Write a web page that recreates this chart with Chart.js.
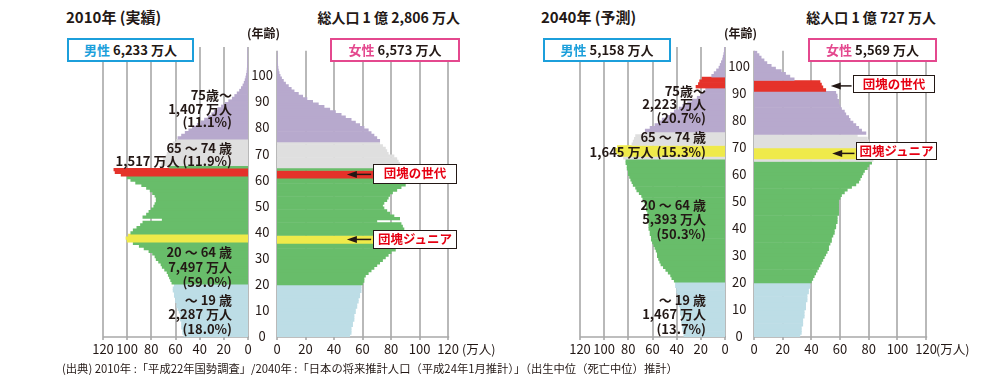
<!DOCTYPE html>
<html>
<head>
<meta charset="utf-8">
<script src="https://cdn.jsdelivr.net/npm/chart.js@4.4.1/dist/chart.umd.min.js"></script>
<style>
body { margin: 0; background: #fff; }
#wrap { position: relative; width: 990px; height: 383px; overflow: hidden;
  font-family: "Noto Sans CJK JP", "Noto Sans", sans-serif; color: #231815; }
canvas { position: absolute; }
.t { position: absolute; white-space: nowrap; font-weight: bold; }
.title { font-size: 15px; line-height: 18px; top: 8px; }
.grp { font-size: 13px; text-align: right; }
.sex { position: absolute; top: 38px; height: 24px; box-sizing: border-box; background: #fff;
  font-size: 13px; font-weight: bold; line-height: 20px; text-align: center; white-space: nowrap; }
.male { border: 2px solid #1c9fdb; }
.male span { color: #1c9fdb; }
.female { border: 2px solid #e4488e; }
.female span { color: #e4488e; }
.gen { position: absolute; box-sizing: border-box; border: 1.5px solid #231815; background: #fff;
  color: #e60012; font-size: 12.5px; font-weight: bold; text-align: center; white-space: nowrap; }
.age { position: absolute; top: 25px; font-size: 12px; font-weight: bold; line-height: 16px; }
.unit { position: absolute; top: 341px; font-size: 12.5px; line-height: 16px; }
.note { position: absolute; left: 62px; top: 361px; font-size: 11.3px; line-height: 14px; white-space: nowrap; }
</style>
</head>
<body>
<div id="wrap">
  <canvas id="m2010" width="198" height="322" style="left:58px;top:39px"></canvas>
  <canvas id="f2010" width="215" height="322" style="left:248px;top:39px"></canvas>
  <canvas id="m2040" width="198" height="322" style="left:535px;top:39px"></canvas>
  <canvas id="f2040" width="216" height="322" style="left:725px;top:39px"></canvas>

  <div class="t title" style="left:66px">2010年 (実績)</div>
  <div class="t title" style="right:530px;font-size:14px">総人口 1 億 2,806 万人</div>
  <div class="t title" style="left:541px">2040年 (予測)</div>
  <div class="t title" style="right:54px;font-size:14px">総人口 1 億 727 万人</div>

  <div class="age" style="left:247px">(年齢)</div>
  <div class="age" style="left:724px">(年齢)</div>

  <div class="sex male" style="left:67px;width:127px"><span>男性</span> 6,233 万人</div>
  <div class="sex female" style="left:330px;width:130px"><span>女性</span> 6,573 万人</div>
  <div class="sex male" style="left:543px;width:128px"><span>男性</span> 5,158 万人</div>
  <div class="sex female" style="left:808px;width:129px"><span>女性</span> 5,569 万人</div>

  <div class="t grp" style="right:758px;top:88px;line-height:13.7px">75歳～<br>1,407 万人<br>(11.1%)</div>
  <div class="t grp" style="right:758px;top:140.5px;line-height:13.5px">65 〜 74 歳<br>1,517 万人 (11.9%)</div>
  <div class="t grp" style="right:758px;top:243.5px;line-height:15px">20 〜 64 歳<br>7,497 万人<br>(59.0%)</div>
  <div class="t grp" style="right:758px;top:292.75px;line-height:14.5px">〜 19 歳<br>2,287 万人<br>(18.0%)</div>

  <div class="t grp" style="right:284px;top:83.5px;line-height:13.5px">75歳～<br>2,223 万人<br>(20.7%)</div>
  <div class="t grp" style="right:284px;top:128.5px;line-height:15.5px">65 〜 74 歳<br>1,645 万人 (15.3%)</div>
  <div class="t grp" style="right:284px;top:197.75px;line-height:14.5px">20 〜 64 歳<br>5,393 万人<br>(50.3%)</div>
  <div class="t grp" style="right:284px;top:292.75px;line-height:14.5px">〜 19 歳<br>1,467 万人<br>(13.7%)</div>

  <div class="gen" style="left:373px;top:164px;width:84px;height:19.5px;line-height:16.5px">団塊の世代</div>
  <div class="gen" style="left:373px;top:229.5px;width:84px;height:19.5px;line-height:16.5px">団塊ジュニア</div>
  <div class="gen" style="left:853px;top:74.5px;width:82px;height:18.5px;line-height:15.5px">団塊の世代</div>
  <div class="gen" style="left:856px;top:141.5px;width:81px;height:18.5px;line-height:15.5px">団塊ジュニア</div>

  <div class="unit" style="left:462px">(万人)</div>
  <div class="unit" style="left:936px">(万人)</div>

  <div class="note">(出典) 2010年 :「平成22年国勢調査」/2040年 :「日本の将来推計人口（平成24年1月推計）」（出生中位（死亡中位）推計）</div>
</div>

<script>
// population by single year of age (万人)
const male2010 = [
  53, 54, 54, 55, 55, 55, 56, 56, 56, 57,
  58, 59, 59, 60, 60, 61, 61, 62, 62, 61,
  63, 64, 65, 66, 67, 69, 71, 72, 74, 76,
  77, 79, 82, 86, 90, 95, 100, 101, 99, 97,
  95, 92, 89, 87, 71, 87, 84, 82, 80, 78,
  77, 76, 76, 77, 79, 81, 84, 88, 93, 97,
  100, 105, 110, 111, 65, 72, 71, 70, 68, 67,
  65, 64, 64, 62, 59, 58, 55, 52, 49, 46,
  42, 39, 36, 33, 30, 28, 25, 22, 19, 16,
  13, 11, 9, 7, 5.5, 4.2, 3.2, 2.4, 1.8, 1.3,
  0.9, 0.7, 0.5, 0.4, 0.3, 0.3, 0.2, 0.2, 0.2, 0.1
];
const female2010 = [
  51, 52, 52, 52, 53, 53, 54, 54, 54, 55,
  55, 56, 56, 57, 57, 58, 58, 59, 59, 59,
  60, 61, 61, 62, 64, 66, 68, 70, 72, 74,
  76, 78, 80, 83, 86, 90, 95, 97, 96, 93,
  91, 89, 88, 87, 70, 86, 82, 79, 77, 75,
  74, 75, 77, 78, 79, 81, 84, 87, 90, 92,
  95, 103, 108, 108, 68, 86, 86, 85, 84, 82,
  78, 77, 76, 74, 72, 72, 70, 68, 66, 64,
  61, 58, 55, 52, 48, 45, 41, 37, 33, 29,
  25, 21, 18, 15, 12, 10, 8, 6, 4.5, 3.2,
  2.2, 1.5, 1, 0.7, 0.5, 0.3, 0.2, 0.2, 0.1, 0.1
];
const male2040 = [
  34, 34, 35, 35, 35, 36, 36, 36, 37, 37,
  37, 38, 38, 38, 39, 39, 40, 40, 41, 41,
  42, 44, 45, 47, 49, 51, 53, 54, 55, 56,
  56, 57, 58, 59, 60, 61, 61, 62, 62, 63,
  63, 63, 64, 64, 64, 64, 65, 65, 66, 67,
  68, 69, 71, 73, 74, 76, 77, 78, 79, 80,
  80, 81, 81, 82, 82, 84, 88, 90, 91, 89,
  77, 76, 75, 74, 66, 66, 62, 58, 55, 52,
  48, 45, 42, 38, 35, 31, 27, 23, 20, 18,
  16, 24, 22, 21, 19, 11, 9, 7, 5, 4,
  3, 2, 1.5, 1, 0.6, 0.4
];
const female2040 = [
  32, 33, 33, 33, 34, 34, 34, 35, 35, 35,
  36, 36, 36, 37, 37, 37, 38, 38, 39, 39,
  40, 41, 42, 43, 44, 45, 46, 47, 48, 49,
  50, 51, 52, 52, 53, 54, 54, 55, 56, 56,
  57, 57, 58, 58, 58, 59, 59, 59, 59, 59,
  59, 60, 61, 63, 65, 68, 71, 73, 74, 75,
  76, 77, 79, 80, 82, 83, 86, 88, 89, 87,
  82, 81, 80, 79, 72, 78, 75, 73, 71, 69,
  67, 66, 64, 63, 61, 60, 59, 59, 58, 58,
  57, 50, 48, 47, 46, 28, 25, 22, 19, 15,
  12, 9, 7, 5, 3.5, 2
];

// ages highlighted in the picture
const dankai2010 = [61, 62, 63];
const junior2010 = [36, 37, 38];
const dankai2040 = [91, 92, 93, 94];
const junior2040 = [66, 67, 68, 69];

const xTicks = [0, 20, 40, 60, 80, 100, 120];
const ageTicks = [0, 10, 20, 30, 40, 50, 60, 70, 80, 90, 100];

const INK = '#231815';
const GRID = '#a8a8a8';
const FONT = '"Noto Sans CJK JP", "Noto Sans", sans-serif';

function barColors(values, dankai, junior) {
  return values.map((v, age) => {
    if (dankai.includes(age)) return '#e5322a';
    if (junior.includes(age)) return '#efea4a';
    if (age < 20) return '#bddde6';
    if (age < 65) return '#68bd6a';
    if (age < 75) return '#dfdfdf';
    return '#b7a9cd';
  });
}

// vertical grid lines + base line, drawn under the bars
const gridPlugin = {
  id: 'vgrid',
  beforeDatasetsDraw(chart) {
    const ctx = chart.ctx;
    const x = chart.scales.x;
    const area = chart.chartArea;
    ctx.save();
    ctx.strokeStyle = GRID;
    ctx.lineWidth = 1.6;
    xTicks.forEach(v => {
      const px = Math.round(x.getPixelForValue(v));
      ctx.beginPath();
      ctx.moveTo(px, area.top);
      ctx.lineTo(px, area.bottom + 3);
      ctx.stroke();
    });
    ctx.beginPath();
    ctx.moveTo(area.left, Math.round(area.bottom));
    ctx.lineTo(area.right + 1, Math.round(area.bottom));
    ctx.stroke();
    ctx.restore();
  }
};

const arrowPlugin = {
  id: 'arrows',
  afterDatasetsDraw(chart, args, opts) {
    const ctx = chart.ctx;
    const x = chart.scales.x, y = chart.scales.y;
    (opts.list || []).forEach(a => {
      const py = (y.getPixelForValue(a.ages[0]) + y.getPixelForValue(a.ages[a.ages.length - 1])) / 2;
      const x0 = x.getPixelForValue(a.from);
      const x1 = x.getPixelForValue(a.to);
      ctx.save();
      ctx.strokeStyle = INK;
      ctx.fillStyle = INK;
      ctx.lineWidth = 1.5;
      ctx.beginPath();
      ctx.moveTo(x0, py);
      ctx.lineTo(x1 + 6, py);
      ctx.stroke();
      ctx.beginPath();
      ctx.moveTo(x1, py);
      ctx.lineTo(x1 + 10, py - 3.5);
      ctx.lineTo(x1 + 10, py + 3.5);
      ctx.closePath();
      ctx.fill();
      ctx.restore();
    });
  }
};

function pyramid(id, values, dankai, junior, side, arrows) {
  const labels = values.map((v, i) => String(i));
  const isMale = side === 'male';
  return new Chart(document.getElementById(id), {
    type: 'bar',
    data: {
      labels: labels,
      datasets: [{
        data: values,
        backgroundColor: barColors(values, dankai, junior),
        borderWidth: 0,
        categoryPercentage: 1,
        barPercentage: 1
      }]
    },
    plugins: [gridPlugin, arrowPlugin],
    options: {
      indexAxis: 'y',
      responsive: false,
      animation: false,
      events: [],
      layout: { padding: isMale ? { left: 16, right: 8, top: 8, bottom: 0 } : { left: 0, right: 12, top: 8, bottom: 0 } },
      plugins: {
        legend: { display: false },
        tooltip: { enabled: false },
        arrows: { list: arrows || [] }
      },
      scales: {
        x: {
          min: 0,
          max: 120,
          reverse: isMale,
          afterBuildTicks: s => { s.ticks = xTicks.map(v => ({ value: v })); },
          afterFit: s => { s.height = 24; },
          grid: { display: false, drawTicks: false },
          border: { display: false },
          ticks: {
            color: INK, padding: 4, autoSkip: false, maxRotation: 0, minRotation: 0,
            font: { family: FONT, size: 13 }
          }
        },
        y: {
          reverse: true,
          display: !isMale,
          position: 'left',
          afterFit: s => { s.width = 29; },
          grid: { display: false, drawTicks: false },
          border: { display: false },
          ticks: {
            autoSkip: false,
            crossAlign: 'center',
            padding: 4,
            color: INK,
            font: { family: FONT, size: 13 },
            callback: function (val) {
              const a = Number(this.getLabelForValue(val));
              return ageTicks.includes(a) ? String(a) : '';
            }
          }
        }
      }
    }
  });
}

pyramid('m2010', male2010, dankai2010, junior2010, 'male');
pyramid('f2010', female2010, dankai2010, junior2010, 'female', [
  { ages: dankai2010, from: 66, to: 49 },
  { ages: junior2010, from: 66, to: 49 }
]);
pyramid('m2040', male2040, dankai2040, junior2040, 'male');
pyramid('f2040', female2040, dankai2040, junior2040, 'female', [
  { ages: dankai2040, from: 68, to: 53.5 },
  { ages: junior2040, from: 70, to: 54.5 }
]);
</script>
</body>
</html>
